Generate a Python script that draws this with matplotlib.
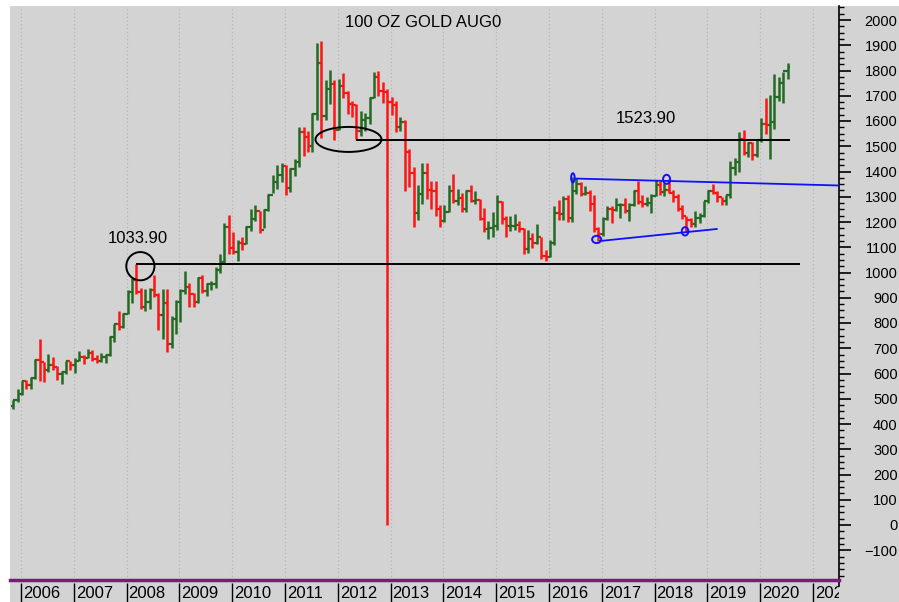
import numpy as np
import matplotlib
matplotlib.use('Agg')
import matplotlib.pyplot as plt
from matplotlib.patches import Ellipse, Rectangle

# ---------------- data (monthly bars, Nov 2005 .. Jul 2020) ----------------
first_year, first_month = 2005, 11

opens = [470, 495,
         518, 569, 556, 583, 654, 645, 614, 633, 626, 600, 606, 648,
         635, 651, 665, 663, 680, 659, 650, 666, 673, 743, 795, 783,
         836, 923, 972, 921, 865, 885, 930, 912, 830, 880, 718, 814,
         883, 928, 942, 916, 883, 979, 927, 954, 955, 1008, 1040, 1182,
         1096, 1081, 1118, 1113, 1180, 1213, 1244, 1169, 1248, 1307, 1357, 1386,
         1421, 1333, 1411, 1439, 1556, 1536, 1502, 1628, 1828, 1620, 1725, 1746,
         1566, 1738, 1710, 1669, 1664, 1560, 1604, 1610, 1692, 1776, 1719, 1713,
         1676, 1663, 1578, 1595, 1476, 1393, 1234, 1312, 1396, 1327, 1323, 1250,
         1202, 1240, 1321, 1284, 1296, 1250, 1322, 1282, 1287, 1210, 1171, 1175,
         1184, 1278, 1213, 1183, 1184, 1190, 1172, 1095, 1132, 1115, 1141, 1065,
         1060, 1116, 1237, 1233, 1290, 1215, 1321, 1351, 1309, 1316, 1273, 1173,
         1152, 1211, 1253, 1249, 1268, 1269, 1242, 1269, 1322, 1280, 1271, 1277,
         1303, 1345, 1318, 1325, 1315, 1298, 1253, 1223, 1206, 1192, 1215, 1222,
         1282, 1321, 1316, 1298, 1285, 1305, 1413, 1437, 1529, 1472, 1513, 1464,
         1523, 1587, 1585, 1596, 1694, 1751, 1800]

highs = [497, 540,
         570, 574, 588, 657, 737, 647, 677, 665, 630, 610, 650, 650,
         660, 690, 672, 697, 695, 673, 683, 677, 748, 797, 848, 841,
         931, 978, 1034, 939, 936, 937, 990, 920, 935, 935, 829, 890,
         935, 1007, 959, 920, 982, 990, 960, 966, 1022, 1072, 1196, 1227,
         1162, 1127, 1140, 1185, 1250, 1266, 1245, 1250, 1310, 1388, 1425, 1432,
         1424, 1415, 1448, 1576, 1578, 1561, 1633, 1910, 1915, 1764, 1803, 1764,
         1765, 1792, 1720, 1680, 1666, 1640, 1630, 1695, 1796, 1798, 1755, 1727,
         1696, 1680, 1617, 1605, 1488, 1418, 1348, 1434, 1434, 1362, 1362, 1267,
         1268, 1345, 1392, 1331, 1315, 1326, 1345, 1324, 1290, 1255, 1205, 1240,
         1307, 1285, 1224, 1224, 1232, 1205, 1175, 1170, 1157, 1191, 1142, 1089,
         1128, 1263, 1287, 1304, 1306, 1377, 1375, 1360, 1344, 1326, 1307, 1180,
         1220, 1264, 1264, 1296, 1275, 1297, 1275, 1328, 1362, 1306, 1300, 1309,
         1366, 1362, 1356, 1369, 1326, 1309, 1266, 1224, 1214, 1243, 1237, 1284,
         1326, 1349, 1324, 1300, 1306, 1443, 1452, 1555, 1566, 1518, 1516, 1525,
         1611, 1691, 1704, 1788, 1775, 1796, 1828]

lows = [460, 489,
        515, 538, 540, 580, 570, 565, 605, 613, 573, 560, 600, 612,
        603, 648, 636, 660, 650, 642, 644, 641, 670, 723, 772, 780,
        836, 880, 913, 855, 847, 856, 902, 773, 736, 684, 700, 758,
        802, 916, 865, 865, 881, 917, 905, 930, 938, 1000, 1033, 1075,
        1075, 1045, 1088, 1112, 1163, 1203, 1157, 1175, 1243, 1314, 1332, 1360,
        1308, 1320, 1381, 1417, 1462, 1479, 1478, 1604, 1531, 1604, 1667, 1524,
        1564, 1690, 1628, 1615, 1527, 1540, 1560, 1587, 1690, 1700, 1672, 0,
        1625, 1555, 1562, 1321, 1338, 1180, 1208, 1270, 1292, 1251, 1222, 1180,
        1200, 1238, 1277, 1268, 1240, 1240, 1280, 1270, 1207, 1160, 1131, 1142,
        1167, 1191, 1142, 1166, 1168, 1162, 1072, 1077, 1098, 1112, 1052, 1046,
        1062, 1107, 1208, 1207, 1200, 1200, 1311, 1302, 1305, 1242, 1161, 1124,
        1146, 1208, 1195, 1243, 1214, 1236, 1204, 1265, 1271, 1260, 1265, 1237,
        1303, 1307, 1303, 1315, 1281, 1245, 1211, 1160, 1180, 1182, 1196, 1221,
        1277, 1311, 1281, 1267, 1267, 1296, 1385, 1400, 1465, 1458, 1445, 1459,
        1517, 1547, 1451, 1568, 1681, 1671, 1765]

closes = [495, 518,
          569, 556, 583, 654, 645, 614, 633, 626, 600, 606, 648, 635,
          651, 665, 663, 680, 659, 650, 666, 673, 743, 795, 783, 836,
          923, 972, 921, 865, 885, 930, 912, 830, 880, 718, 814, 883,
          928, 942, 916, 883, 979, 927, 954, 955, 1008, 1040, 1182, 1096,
          1081, 1118, 1113, 1180, 1213, 1244, 1169, 1248, 1307, 1357, 1386, 1421,
          1333, 1411, 1439, 1556, 1536, 1502, 1628, 1828, 1620, 1725, 1746, 1566,
          1738, 1710, 1669, 1664, 1560, 1604, 1610, 1692, 1776, 1719, 1713, 1676,
          1663, 1578, 1595, 1476, 1393, 1234, 1312, 1396, 1327, 1323, 1250, 1202,
          1240, 1321, 1284, 1296, 1250, 1322, 1282, 1287, 1210, 1171, 1175, 1184,
          1278, 1213, 1183, 1184, 1190, 1172, 1095, 1132, 1115, 1141, 1065, 1060,
          1116, 1237, 1233, 1290, 1215, 1321, 1351, 1309, 1316, 1273, 1173, 1152,
          1211, 1253, 1249, 1268, 1269, 1242, 1269, 1322, 1280, 1271, 1277, 1303,
          1345, 1318, 1325, 1315, 1298, 1253, 1223, 1206, 1192, 1215, 1222, 1282,
          1321, 1316, 1298, 1285, 1305, 1413, 1437, 1529, 1472, 1513, 1464, 1523,
          1587, 1585, 1596, 1694, 1751, 1800, 1815]

year_labels = [str(y) for y in range(2006, 2022)]
level_low = 1033.90
level_high = 1523.90
title_text = "100 OZ GOLD AUG0"

# ---------------- figure ----------------
W, H = 899, 602
BG = '#d3d3d3'
GREEN = '#236b23'
RED = '#ff1414'
plt.rcParams['font.family'] = ['Liberation Sans', 'DejaVu Sans']

fig = plt.figure(figsize=(W / 100, H / 100), dpi=100)
fig.patch.set_facecolor('white')
fig.patches.append(Rectangle((10 / W, 0), 1 - 10 / W, 1 - 6 / H, transform=fig.transFigure,
                             facecolor=BG, edgecolor='none', zorder=-10))

ax = fig.add_axes([10 / W, (H - 580) / H, (839 - 10) / W, (580 - 6) / H])
ax.set_facecolor(BG)

# month index: 0 = first bar; pixel spacing 4.4 px/month, Jan 2006 bar at px 22
px_per_month = 4.4
x_left = 2 + (10 - 22) / px_per_month
x_right = 2 + (839 - 22) / px_per_month
ax.set_xlim(x_left, x_right)
ax.set_ylim((525 - 580) / 0.2525, (525 - 6) / 0.2525)

o = np.array(opens, float)
h = np.array(highs, float)
l = np.array(lows, float)
c = np.array(closes, float)
idx = np.arange(len(o))
cols = np.where(c >= o, GREEN, RED)

# year grid
year_x = np.array([2 + 12 * k for k in range(len(year_labels))]) - 0.25
ax.vlines(year_x, *ax.get_ylim(), colors='#b4b4b4', linestyles=(0, (1, 2)), lw=0.9, zorder=0)

# OHLC bars
ax.vlines(idx, l, h, colors=cols, lw=1.8, zorder=3)
ax.hlines(o, idx - 0.5, idx, colors=cols, lw=1.6, zorder=3)
ax.hlines(c, idx, idx + 0.5, colors=cols, lw=1.6, zorder=3)

# horizontal levels
i_low = int(np.argmax(h[:40]))
i_high = 74 + int(np.argmin(l[74:80]))
ax.hlines(level_low, i_low, 178.8, colors='black', lw=1.4, zorder=4)
ax.hlines(level_high, i_high, 176.5, colors='black', lw=1.4, zorder=4)
ax.add_patch(Ellipse((28.9, 1025), 6.4, 112, fill=False, edgecolor='black', lw=1.4, zorder=4))
ax.add_patch(Ellipse((76.2, 1527), 15.0, 99, fill=False, edgecolor='black', lw=1.4, zorder=4))
ax.text(28.25, 1136, f"{level_low:.2f}", ha='center', va='center', fontsize=12, zorder=5)
ax.text(143.7, 1608, f"{level_high:.2f}", ha='center', va='center', fontsize=12, zorder=5)

# blue trend lines
BLUE = '#1010ff'
ax.plot([127.9, 200], [1372, 1372 - (200 - 127.9) * 0.458], color=BLUE, lw=1.3, zorder=4)
ax.plot([133.4, 159.9], [1124.8, 1172.3], color=BLUE, lw=1.3, zorder=4)
for (ex, ey, ew, eh) in [(127.2, 1375, 0.8, 36), (148.5, 1369, 1.6, 36),
                         (132.6, 1131, 2.05, 29), (152.7, 1163, 1.5, 33)]:
    ax.add_patch(Ellipse((ex, ey), ew, eh, fill=False, edgecolor=BLUE, lw=1.4, zorder=5))

ax.text(0.4988, 0.972, title_text, transform=ax.transAxes, ha='center', va='center', fontsize=12)

# axes styling
for s in ['left', 'top']:
    ax.spines[s].set_visible(False)
ax.spines['right'].set_color('black')
ax.spines['right'].set_linewidth(1.2)
ax.spines['bottom'].set_color('#7a1a7a')
ax.spines['bottom'].set_linewidth(2.5)
ax.set_xticks([])
ax.yaxis.tick_right()
ax.set_yticks(np.arange(-100, 2001, 100))
ax.set_yticks(np.arange(-200, 2051, 25), minor=True)
ax.tick_params(axis='y', which='major', direction='out', length=8.6, width=1.2,
               labelsize=10.5, pad=33.6)
ax.tick_params(axis='y', which='minor', direction='out', length=3.6, width=1.0)
for lab in ax.get_yticklabels():
    lab.set_horizontalalignment('right')

# extend the value axis line slightly below the plot, as in the original
ax.plot([1, 1], [0, -0.01], transform=ax.transAxes, color='black', lw=1.2, clip_on=False)

# year label strip
axl = fig.add_axes([10 / W, 0, (839 - 10) / W, (602 - 583) / H])
axl.set_xlim(x_left, x_right)
axl.set_ylim(0, 1)
axl.axis('off')
axl.vlines(year_x, 0, 1, colors='black', lw=1.0)
for yx, yl in zip(year_x, year_labels):
    axl.annotate(yl, (yx, 0.45), xytext=(1.5, 0), textcoords='offset points',
                 ha='left', va='center', fontsize=12, annotation_clip=False, clip_on=True)

fig.savefig('out.png', dpi=100, facecolor=fig.get_facecolor())
